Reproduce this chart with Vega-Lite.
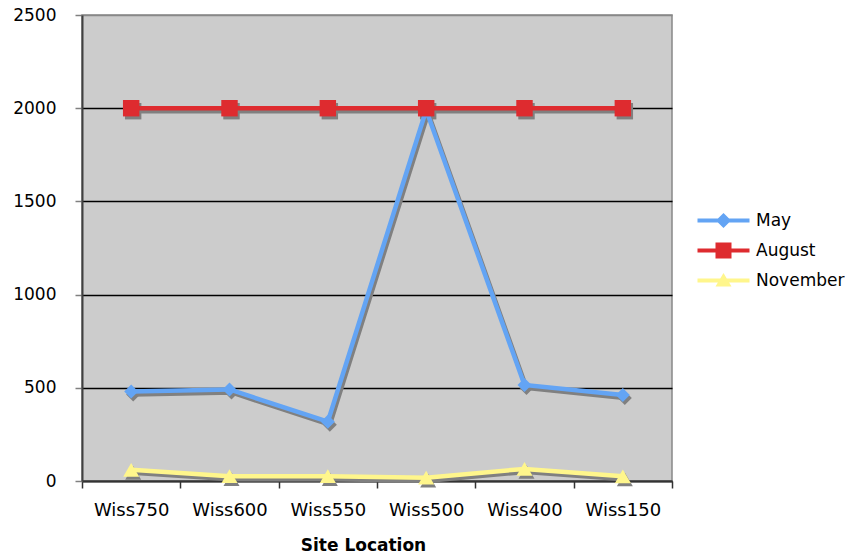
{
  "$schema": "https://vega.github.io/schema/vega-lite/v6.json",
  "width": 590,
  "height": 466,
  "autosize": "none",
  "padding": {"left": 82, "top": 15, "right": 180, "bottom": 74},
  "background": "white",
  "config": {
    "view": {"fill": "#CCCCCC", "stroke": "#888888", "strokeWidth": 1.5},
    "font": "DejaVu Sans"
  },
  "data": {
    "values": [
      {"site": "Wiss750", "series": "May", "value": 480},
      {"site": "Wiss600", "series": "May", "value": 491},
      {"site": "Wiss550", "series": "May", "value": 318},
      {"site": "Wiss500", "series": "May", "value": 1990},
      {"site": "Wiss400", "series": "May", "value": 515},
      {"site": "Wiss150", "series": "May", "value": 461},
      {"site": "Wiss750", "series": "August", "value": 2000},
      {"site": "Wiss600", "series": "August", "value": 2000},
      {"site": "Wiss550", "series": "August", "value": 2000},
      {"site": "Wiss500", "series": "August", "value": 2000},
      {"site": "Wiss400", "series": "August", "value": 2000},
      {"site": "Wiss150", "series": "August", "value": 2000},
      {"site": "Wiss750", "series": "November", "value": 60},
      {"site": "Wiss600", "series": "November", "value": 26},
      {"site": "Wiss550", "series": "November", "value": 26},
      {"site": "Wiss500", "series": "November", "value": 18},
      {"site": "Wiss400", "series": "November", "value": 65},
      {"site": "Wiss150", "series": "November", "value": 25}
    ]
  },
  "encoding": {
    "x": {
      "field": "site",
      "type": "nominal",
      "sort": ["Wiss750", "Wiss600", "Wiss550", "Wiss500", "Wiss400", "Wiss150"],
      "scale": {"type": "band", "paddingInner": 0, "paddingOuter": 0},
      "title": "Site Location",
      "axis": {
        "labelAngle": 0,
        "labelFontSize": 18,
        "labelColor": "black",
        "labelPadding": 13,
        "tickSize": 7,
        "tickColor": "#333333",
        "tickWidth": 1.5,
        "tickBand": "extent",
        "domainColor": "#333333",
        "domainWidth": 2,
        "grid": false,
        "titleFontSize": 17,
        "titleFontWeight": "bold",
        "titleColor": "black",
        "titleX": 281,
        "titleY": 69,
        "titleBaseline": "alphabetic",
        "titleAnchor": "middle"
      }
    },
    "y": {
      "field": "value",
      "type": "quantitative",
      "scale": {"domain": [0, 2500], "nice": false},
      "title": null,
      "axis": {
        "values": [0, 500, 1000, 1500, 2000, 2500],
        "format": "d",
        "labelFontSize": 17,
        "labelColor": "black",
        "labelPadding": 19,
        "tickSize": 7,
        "tickColor": "#808080",
        "tickWidth": 1.5,
        "domainColor": "#404040",
        "domainWidth": 2,
        "grid": true,
        "gridColor": {"condition": {"test": "datum.value == 2500", "value": "#888888"}, "value": "black"},
        "gridWidth": 1.5,
        "gridOpacity": 1
      }
    },
    "shape": {
      "condition": [
        {"test": "datum.series == 'May'", "value": "diamond"},
        {"test": "datum.series == 'August'", "value": "square"}
      ],
      "value": "triangle-up"
    },
    "size": {
      "condition": [
        {"test": "datum.series == 'May'", "value": 196},
        {"test": "datum.series == 'August'", "value": 270}
      ],
      "value": 256
    }
  },
  "layer": [
    {
      "mark": {"type": "line", "strokeWidth": 4.5, "xOffset": 2, "yOffset": 3, "color": "#808080"},
      "encoding": {"detail": {"field": "series"}, "shape": null, "size": null}
    },
    {
      "mark": {"type": "point", "filled": true, "opacity": 1, "xOffset": 2, "yOffset": 3, "color": "#808080"},
      "encoding": {"detail": {"field": "series"}}
    },
    {
      "mark": {"type": "line", "strokeWidth": 4.5},
      "encoding": {
        "shape": null,
        "size": null,
        "color": {
          "field": "series",
          "type": "nominal",
          "scale": {"domain": ["May", "August", "November"], "range": ["#63A4F4", "#DE2B2F", "#FFF68C"]},
          "legend": {
            "title": null,
            "orient": "none",
            "legendX": 633,
            "legendY": 197,
            "padding": 0,
            "symbolSize": 256,
            "symbolStrokeWidth": 0,
            "labelOffset": 24,
            "labelFontSize": 17,
            "labelColor": "black",
            "rowPadding": 12,
            "encode": {
              "symbols": {
                "update": {
                  "shape": {"signal": "datum.value == 'May' ? 'M-3.25,-0.25H3.25V0.25H-3.25Z M0,-0.95L0.95,0L0,0.95L-0.95,0Z' : datum.value == 'August' ? 'M-3.25,-0.25H3.25V0.25H-3.25Z M-1,-1H1V1H-1Z' : 'M-3.25,-0.25H3.25V0.25H-3.25Z M0,-0.95L1,0.75H-1Z'"},
                  "fill": {"signal": "datum.value == 'May' ? '#63A4F4' : datum.value == 'August' ? '#DE2B2F' : '#FFF68C'"},
                  "stroke": {"value": "transparent"},
                  "size": {"value": 256},
                  "opacity": {"value": 1},
                  "fillOpacity": {"value": 1}
                }
              }
            }
          }
        }
      }
    },
    {
      "mark": {"type": "point", "filled": true, "opacity": 1},
      "encoding": {
        "color": {"field": "series", "type": "nominal"}
      }
    }
  ]
}
